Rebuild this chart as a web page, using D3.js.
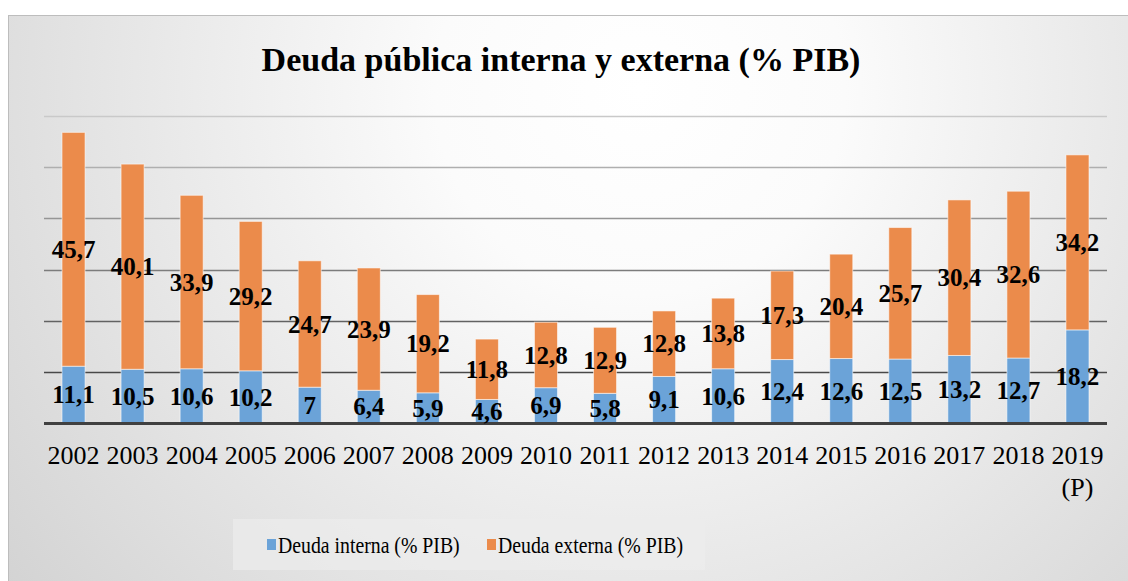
<!DOCTYPE html>
<html>
<head>
<meta charset="utf-8">
<script src="https://cdn.jsdelivr.net/npm/d3@7"></script>
<style>
  html, body { margin: 0; padding: 0; background: #fff; }
  svg { display: block; }
  text { font-family: "Liberation Serif", Tinos, "Times New Roman", Times, serif; }
</style>
</head>
<body>
<div id="chart"></div>
<script>
// data
var years = ["2002","2003","2004","2005","2006","2007","2008","2009","2010",
             "2011","2012","2013","2014","2015","2016","2017","2018","2019"];
var yearLabels = ["2002","2003","2004","2005","2006","2007","2008","2009","2010",
             "2011","2012","2013","2014","2015","2016","2017","2018","2019\n(P)"];
var interna = [11.1,10.5,10.6,10.2,7,6.4,5.9,4.6,6.9,5.8,9.1,10.6,12.4,12.6,12.5,13.2,12.7,18.2];
var externa = [45.7,40.1,33.9,29.2,24.7,23.9,19.2,11.8,12.8,12.9,12.8,13.8,17.3,20.4,25.7,30.4,32.6,34.2];
var gridTicks = [10,20,30,40,50,60];
var seriesNames = ["Deuda interna (% PIB)", "Deuda externa (% PIB)"];
var colors = ["#6ba3d8", "#eb8b4b"];

var W = 1128, H = 581;
var margin = {top: 116, right: 21, bottom: 158, left: 44},
    width = W - margin.left - margin.right,
    height = H - margin.top - margin.bottom;

var svg = d3.select("#chart").append("svg")
    .attr("width", W)
    .attr("height", H);

var defs = svg.append("defs");
var bg = defs.append("radialGradient")
    .attr("id", "bg")
    .attr("gradientUnits", "userSpaceOnUse")
    .attr("cx", 640).attr("cy", 90).attr("r", 820);
bg.append("stop").attr("offset", "0").attr("stop-color", "#ffffff");
bg.append("stop").attr("offset", "0.25").attr("stop-color", "#fbfbfb");
bg.append("stop").attr("offset", "1").attr("stop-color", "#d2d2d2");

// chart frame (cropped on the right and bottom)
svg.append("rect")
    .attr("x", 8.5).attr("y", 15.5)
    .attr("width", 1140).attr("height", 600)
    .attr("fill", "url(#bg)")
    .attr("stroke", "#bdbdbd")
    .attr("stroke-width", 1);

svg.append("text")
    .attr("x", 561)
    .attr("y", 71)
    .attr("text-anchor", "middle")
    .style("font-weight", "bold")
    .style("font-size", "34px")
    .text("Deuda pública interna y externa (% PIB)");

var g = svg.append("g")
    .attr("transform", "translate(" + margin.left + "," + margin.top + ")");

var x = d3.scaleBand()
    .domain(years)
    .range([0, width])
    .paddingInner(0.61)
    .paddingOuter(0.305);

var y = d3.scaleLinear()
    .domain([0, 60])
    .range([height, 0]);

var gridColor = d3.scaleLinear()
    .domain([0, 60])
    .range(["#2e2e2e", "#c9c9c9"]);

// gridlines
g.selectAll(".grid")
    .data(gridTicks)
  .enter().append("line")
    .attr("class", "grid")
    .attr("x1", 0).attr("x2", width)
    .attr("y1", function(d) { return Math.round(y(d)) + 0.5; })
    .attr("y2", function(d) { return Math.round(y(d)) + 0.5; })
    .attr("stroke", function(d) { return gridColor(d); })
    .attr("stroke-width", 1.6);

var stack = years.map(function(yr, i) {
  return {year: yr, a: interna[i], b: externa[i]};
});

// blue segment
g.selectAll(".bar-int")
    .data(stack)
  .enter().append("rect")
    .attr("class", "bar-int")
    .attr("x", function(d) { return x(d.year); })
    .attr("width", x.bandwidth())
    .attr("y", function(d) { return y(d.a); })
    .attr("height", function(d) { return y(0) - y(d.a); })
    .attr("fill", colors[0])
    .attr("stroke", "rgba(255,255,255,0.55)")
    .attr("stroke-width", 1);

// orange segment
g.selectAll(".bar-ext")
    .data(stack)
  .enter().append("rect")
    .attr("class", "bar-ext")
    .attr("x", function(d) { return x(d.year); })
    .attr("width", x.bandwidth())
    .attr("y", function(d) { return y(d.a + d.b); })
    .attr("height", function(d) { return y(d.a) - y(d.a + d.b); })
    .attr("fill", colors[1])
    .attr("stroke", "rgba(255,255,255,0.55)")
    .attr("stroke-width", 1);

// baseline
g.append("line")
    .attr("x1", 0).attr("x2", width)
    .attr("y1", y(0) + 0.5).attr("y2", y(0) + 0.5)
    .attr("stroke", "#404040")
    .attr("stroke-width", 3);

var fmt = function(v) { return String(v).replace(".", ","); };

// data labels
var labelStyle = function(sel) {
  sel.attr("text-anchor", "middle")
    .attr("dy", "0.35em")
    .style("font-weight", "bold")
    .style("font-size", "25px")
    .attr("fill", "#000");
};

g.selectAll(".lab-int")
    .data(stack)
  .enter().append("text")
    .attr("class", "lab-int")
    .attr("x", function(d) { return x(d.year) + x.bandwidth() / 2; })
    .attr("y", function(d) { return (y(0) + y(d.a)) / 2; })
    .call(labelStyle)
    .text(function(d) { return fmt(d.a); });

g.selectAll(".lab-ext")
    .data(stack)
  .enter().append("text")
    .attr("class", "lab-ext")
    .attr("x", function(d) { return x(d.year) + x.bandwidth() / 2; })
    .attr("y", function(d) { return (y(d.a) + y(d.a + d.b)) / 2; })
    .call(labelStyle)
    .text(function(d) { return fmt(d.b); });

// x axis labels
var xAxis = d3.axisBottom(x).tickSize(0).tickPadding(0)
    .tickFormat(function(d, i) { return yearLabels[i]; });
var ax = g.append("g")
    .attr("transform", "translate(0," + height + ")")
    .call(xAxis);
ax.select(".domain").remove();
ax.attr("font-family", null);
ax.selectAll(".tick text")
    .style("font-size", "26px")
    .attr("fill", "#000")
    .attr("dy", null)
    .attr("y", 41)
    .each(function(d, i) {
      var parts = yearLabels[i].split("\n");
      var t = d3.select(this).text(null);
      parts.forEach(function(p, k) {
        t.append("tspan")
          .attr("x", 0)
          .attr("dy", k === 0 ? 0 : 32)
          .text(p);
      });
    });

// legend
svg.append("rect")
    .attr("x", 233).attr("y", 519)
    .attr("width", 472).attr("height", 51)
    .attr("fill", "#ececec")
    .attr("fill-opacity", 0.7);

var legendX = [267, 487];
var legend = svg.selectAll(".legend")
    .data(seriesNames)
  .enter().append("g")
    .attr("class", "legend")
    .attr("transform", function(d, i) { return "translate(" + legendX[i] + ",0)"; });

legend.append("rect")
    .attr("x", 0).attr("y", 539)
    .attr("width", 9).attr("height", 11)
    .attr("fill", function(d, i) { return colors[i]; });

legend.append("text")
    .attr("transform", "translate(11,553) scale(0.86,1)")
    .style("font-size", "23px")
    .attr("fill", "#000")
    .text(function(d) { return d; });
</script>
</body>
</html>
